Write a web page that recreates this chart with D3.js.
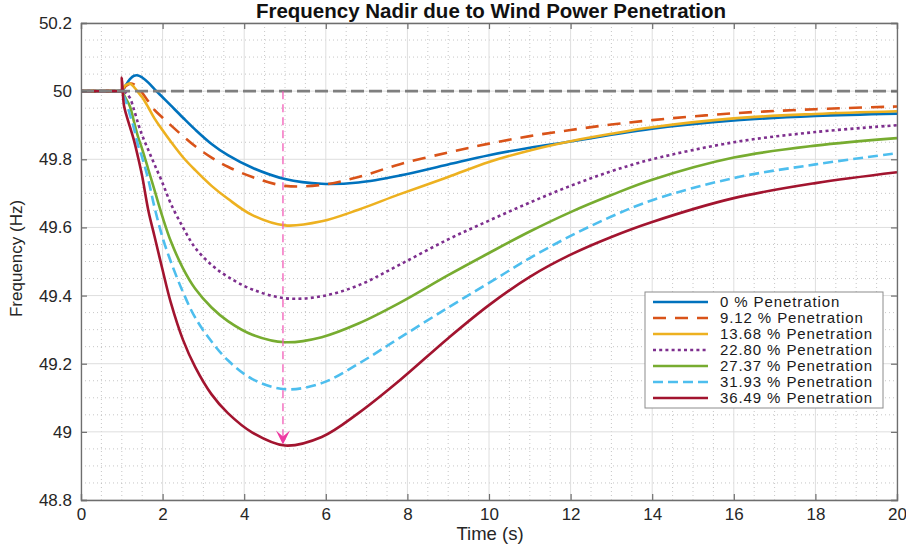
<!DOCTYPE html>
<html>
<head>
<meta charset="utf-8">
<script src="https://cdn.jsdelivr.net/npm/d3@7"></script>
<style>
    body { margin: 0; background: #fff; }
    svg { display: block; font-family: "Liberation Sans", Arial, sans-serif; }
    .tick-label { font-size: 17px; fill: #262626; }
</style>
</head>
<body>
<div id="chart"></div>
<script>

// Data
var times = [0, 0.95, 0.99, 1.0, 1.05, 1.1, 1.2, 1.3, 1.4, 1.5, 1.65, 1.8, 2.0, 2.2, 2.5, 2.8, 3.2, 3.6, 4.2, 5.0, 5.9, 6.8, 7.8, 9.0, 10, 11, 12, 13, 14, 16, 18, 20];

var pen0     = [50, 50, 50, 50, 50.008, 50.018, 50.035, 50.045, 50.046, 50.04, 50.025, 50.006, 49.982, 49.958, 49.922, 49.887, 49.845, 49.812, 49.775, 49.742, 49.728, 49.732, 49.752, 49.785, 49.812, 49.834, 49.852, 49.872, 49.89, 49.914, 49.927, 49.934];
var pen912   = [50, 50, 50, 50, 50.008, 50.015, 50.022, 50.02, 50.01, 49.995, 49.97, 49.945, 49.922, 49.9, 49.868, 49.838, 49.805, 49.778, 49.748, 49.722, 49.725, 49.748, 49.785, 49.82, 49.846, 49.868, 49.886, 49.902, 49.915, 49.935, 49.947, 49.955];
var pen1368  = [50, 50, 50, 50.003, 50.012, 50.018, 50.022, 50.012, 49.997, 49.982, 49.952, 49.92, 49.885, 49.852, 49.806, 49.768, 49.722, 49.684, 49.636, 49.606, 49.618, 49.652, 49.697, 49.748, 49.792, 49.826, 49.853, 49.875, 49.894, 49.92, 49.933, 49.941];
var pen2280  = [50, 50, 50, 50, 50, 49.995, 49.98, 49.945, 49.905, 49.87, 49.827, 49.785, 49.73, 49.67, 49.6, 49.54, 49.49, 49.455, 49.418, 49.392, 49.398, 49.43, 49.49, 49.565, 49.62, 49.673, 49.722, 49.765, 49.8, 49.85, 49.88, 49.9];
var pen2737  = [50, 50, 50, 50, 49.99, 49.978, 49.955, 49.91, 49.865, 49.83, 49.77, 49.71, 49.63, 49.56, 49.48, 49.42, 49.365, 49.325, 49.285, 49.263, 49.278, 49.318, 49.378, 49.46, 49.525, 49.588, 49.645, 49.695, 49.74, 49.805, 49.84, 49.862];
var pen3193  = [50, 50, 50, 50, 49.985, 49.97, 49.93, 49.89, 49.84, 49.805, 49.74, 49.66, 49.57, 49.5, 49.41, 49.335, 49.265, 49.21, 49.155, 49.125, 49.143, 49.2, 49.275, 49.365, 49.437, 49.51, 49.575, 49.632, 49.68, 49.745, 49.785, 49.818];
var pen3649  = [50, 50, 50, 50.04, 49.96, 49.935, 49.895, 49.855, 49.805, 49.75, 49.65, 49.575, 49.475, 49.38, 49.27, 49.19, 49.11, 49.055, 48.998, 48.96, 48.985, 49.055, 49.15, 49.275, 49.372, 49.455, 49.52, 49.572, 49.616, 49.686, 49.73, 49.762];

var seriesNames = ['0 % Penetration', '9.12 % Penetration', '13.68 % Penetration', '22.80 % Penetration',
                   '27.37 % Penetration', '31.93 % Penetration', '36.49 % Penetration'];
var seriesValues = [pen0, pen912, pen1368, pen2280, pen2737, pen3193, pen3649];

var xTicks = [0, 2, 4, 6, 8, 10, 12, 14, 16, 18, 20];
var yTicks = [48.8, 49, 49.2, 49.4, 49.6, 49.8, 50, 50.2];
var nominalFreq = 50;
var nadirTime = 4.95;
var nadirFreq = 48.96;

// Styles
var colors = ['#0072BD', '#D95319', '#EDB120', '#7E2F8E', '#77AC30', '#4DBEEE', '#A2142F'];
var dashes = [null, '13,9', null, '3,3.2', null, '10,5', null];

var width = 906, height = 545;
var m = {left: 81, right: 9, top: 23, bottom: 45};
var iw = width - m.left - m.right,
    ih = height - m.top - m.bottom;

var svg = d3.select('#chart').append('svg')
    .attr('width', width)
    .attr('height', height);

var x = d3.scaleLinear().domain([0, 20]).range([m.left, m.left + iw]);
var y = d3.scaleLinear().domain([48.8, 50.2]).range([m.top + ih, m.top]);

// Minor grid (dotted)
var g = svg.append('g');
d3.range(0, 20.01, 0.5).filter(function(d){ return d % 2 !== 0; }).forEach(function(d){
    g.append('line').attr('x1', x(d)).attr('x2', x(d)).attr('y1', y(48.8)).attr('y2', y(50.2))
        .attr('stroke', '#b8b8b8').attr('stroke-width', 0.8).attr('stroke-dasharray', '1,3');
});
d3.range(48.8, 50.2001, 0.05).forEach(function(d){
    if (Math.abs(Math.round(d * 5) - d * 5) < 1e-6) return;
    g.append('line').attr('x1', x(0)).attr('x2', x(20)).attr('y1', y(d)).attr('y2', y(d))
        .attr('stroke', '#b8b8b8').attr('stroke-width', 0.8).attr('stroke-dasharray', '1,3');
});

// Major grid
xTicks.forEach(function(d){
    g.append('line').attr('x1', x(d)).attr('x2', x(d)).attr('y1', y(48.8)).attr('y2', y(50.2))
        .attr('stroke', '#dedede').attr('stroke-width', 1);
});
yTicks.forEach(function(d){
    g.append('line').attr('x1', x(0)).attr('x2', x(20)).attr('y1', y(d)).attr('y2', y(d))
        .attr('stroke', '#dedede').attr('stroke-width', 1);
});

// Curves
var line = d3.line()
    .x(function(d){ return x(d[0]); })
    .y(function(d){ return y(d[1]); })
    .curve(d3.curveCatmullRom.alpha(0.5));

seriesValues.forEach(function(vals, i){
    var pts = times.map(function(t, j){ return [t, vals[j]]; });
    svg.append('path')
        .attr('d', line(pts))
        .attr('fill', 'none')
        .attr('stroke', colors[i])
        .attr('stroke-width', 2.6)
        .attr('stroke-dasharray', dashes[i]);
});

// Nominal 50 Hz reference line
svg.append('line')
    .attr('x1', x(0)).attr('x2', x(20))
    .attr('y1', y(nominalFreq)).attr('y2', y(nominalFreq))
    .attr('stroke', '#7f7f7f').attr('stroke-width', 2.6)
    .attr('stroke-dasharray', '13,5');

// Nadir arrow
svg.append('line')
    .attr('x1', x(nadirTime)).attr('x2', x(nadirTime))
    .attr('y1', y(nominalFreq)).attr('y2', y(nadirFreq) - 8)
    .attr('stroke', '#f25cb8').attr('stroke-width', 1.3)
    .attr('stroke-dasharray', '8,5');
var ax = x(nadirTime), ay = y(nadirFreq) - 1;
svg.append('path')
    .attr('d', 'M' + ax + ',' + ay + 'L' + (ax - 7) + ',' + (ay - 14) + 'L' + ax + ',' + (ay - 8) + 'L' + (ax + 7) + ',' + (ay - 14) + 'Z')
    .attr('fill', '#ee3aa2');

// Axes
var axisColor = '#6e6e6e';
svg.append('g').attr('transform', 'translate(0,' + y(48.8) + ')')
    .call(d3.axisBottom(x).tickValues(xTicks).tickSize(-6).tickPadding(8).tickFormat(d3.format('d')));
svg.append('g').attr('transform', 'translate(0,' + y(50.2) + ')')
    .call(d3.axisTop(x).tickValues(xTicks).tickSize(-6).tickFormat(''));
svg.append('g').attr('transform', 'translate(' + x(0) + ',0)')
    .call(d3.axisLeft(y).tickValues(yTicks).tickSize(-6).tickPadding(9).tickFormat(function(d){ return d3.format('')(+d.toFixed(1)); }));
svg.append('g').attr('transform', 'translate(' + x(20) + ',0)')
    .call(d3.axisRight(y).tickValues(yTicks).tickSize(-6).tickFormat(''));

svg.selectAll('.domain').attr('stroke', axisColor).attr('stroke-width', 1.3);
svg.selectAll('.tick line').attr('stroke', axisColor).attr('stroke-width', 1.2);
svg.selectAll('.tick text').attr('class', 'tick-label').attr('font-family', null).attr('font-size', null).attr('fill', null);

// Titles
svg.append('text')
    .attr('x', 491).attr('y', 18)
    .attr('text-anchor', 'middle')
    .attr('font-size', 20.5).attr('font-weight', 'bold')
    .attr('fill', '#111')
    .text('Frequency Nadir due to Wind Power Penetration');

svg.append('text')
    .attr('x', 490).attr('y', 540)
    .attr('text-anchor', 'middle')
    .attr('font-size', 18.5).attr('fill', '#262626')
    .text('Time (s)');

svg.append('text')
    .attr('transform', 'translate(22,' + (m.top + ih / 2 - 3) + ') rotate(-90)')
    .attr('text-anchor', 'middle')
    .attr('font-size', 17).attr('fill', '#262626')
    .text('Frequency (Hz)');

// Legend
var lg = svg.append('g').attr('transform', 'translate(645,292)');
lg.append('rect')
    .attr('width', 238).attr('height', 116)
    .attr('fill', '#fff').attr('stroke', '#8c8c8c').attr('stroke-width', 1);
seriesNames.forEach(function(name, i){
    var ly = 10 + i * 16;
    lg.append('line')
        .attr('x1', 8).attr('x2', 63).attr('y1', ly).attr('y2', ly)
        .attr('stroke', colors[i]).attr('stroke-width', 2.6)
        .attr('stroke-dasharray', dashes[i]);
    lg.append('text')
        .attr('x', 75).attr('y', ly + 5)
        .attr('font-size', 15).attr('letter-spacing', 0.9)
        .attr('fill', '#1a1a1a')
        .text(name);
});

</script>
</body>
</html>
